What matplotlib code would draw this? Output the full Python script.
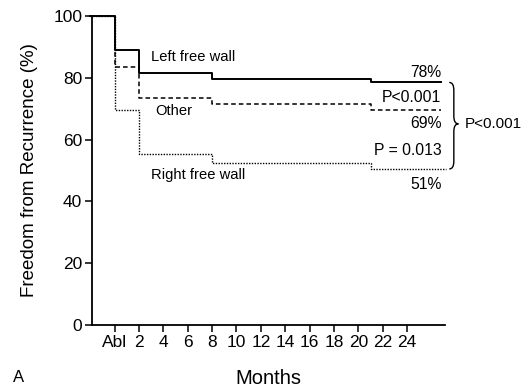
import matplotlib.pyplot as plt
from matplotlib.path import Path
from matplotlib.patches import PathPatch

# step times (months, Abl = 0) and freedom from recurrence (%)
months = [-2, 0, 2, 8, 21, 26.8]
left_wall = [100, 89, 81.5, 79.5, 78.5, 78.5]
other = [100, 83.5, 73.5, 71.5, 69.5, 69.5]
months_right = [-2, 0, 2, 8, 21, 27.2]
right_wall = [100, 69.5, 55.5, 52.5, 50.5, 50.5]

tick_pos = [0, 2, 4, 6, 8, 10, 12, 14, 16, 18, 20, 22, 24]
tick_lab = ['Abl', '2', '4', '6', '8', '10', '12', '14', '16', '18', '20', '22', '24']

plt.rcParams['font.family'] = ['Liberation Sans', 'DejaVu Sans']

fig = plt.figure(figsize=(5.24, 3.88), dpi=100)
ax = fig.add_axes([92 / 524, 63 / 388, 353 / 524, 309 / 388])

ax.step(months, left_wall, where='post', color='black', lw=1.4, ls='-', clip_on=False)
ax.step(months, other, where='post', color='black', lw=1.1, ls=(0, (3, 2)), clip_on=False)
ax.step(months_right, right_wall, where='post', color='black', lw=1.0, ls=(0, (1, 1)), clip_on=False)

ax.set_xlim(-1.85, 27.1)
ax.set_ylim(0, 100)
ax.spines['top'].set_visible(False)
ax.spines['right'].set_visible(False)
ax.spines['left'].set_linewidth(1.3)
ax.spines['bottom'].set_linewidth(1.3)
ax.set_xticks(tick_pos)
ax.set_xticklabels(tick_lab)
ax.set_yticks([0, 20, 40, 60, 80, 100])
ax.tick_params(direction='out', length=5, width=1.1, labelsize=12.5, pad=2)
ax.set_xlabel('Months', fontsize=14.5, labelpad=14)
ax.set_ylabel('Freedom from Recurrence (%)', fontsize=13.5, labelpad=11)

# curve labels
ax.text(3.0, 86.6, 'Left free wall', fontsize=10.6, va='center', ha='left')
ax.text(3.3, 69.4, 'Other', fontsize=10.6, va='center', ha='left')
ax.text(2.95, 48.5, 'Right free wall', fontsize=10.6, va='center', ha='left')

ax.text(26.8, 81.8, '78%', fontsize=11.3, va='center', ha='right')
ax.text(26.8, 73.6, 'P<0.001', fontsize=11.3, va='center', ha='right')
ax.text(26.8, 65.1, '69%', fontsize=11.3, va='center', ha='right')
ax.text(26.8, 56.4, 'P = 0.013', fontsize=11.3, va='center', ha='right')
ax.text(26.8, 45.6, '51%', fontsize=11.3, va='center', ha='right')
ax.text(28.7, 65.1, 'P<0.001', fontsize=11, va='center', ha='left', clip_on=False)

# curly brace joining left and right free wall
x0, w = 27.45, 0.75
ytop, ybot = left_wall[-1], right_wall[-1]
ymid = 65.1
d = 2.5
verts = [(x0, ytop), (x0 + w / 2, ytop), (x0 + w / 2, ytop - d),
         (x0 + w / 2, ymid + d),
         (x0 + w / 2, ymid), (x0 + w, ymid), (x0 + w, ymid),
         (x0 + w / 2, ymid), (x0 + w / 2, ymid - d),
         (x0 + w / 2, ybot + d),
         (x0 + w / 2, ybot), (x0, ybot)]
codes = [Path.MOVETO, Path.CURVE3, Path.CURVE3,
         Path.LINETO,
         Path.CURVE3, Path.CURVE3, Path.MOVETO,
         Path.CURVE3, Path.CURVE3,
         Path.LINETO,
         Path.CURVE3, Path.CURVE3]
ax.add_patch(PathPatch(Path(verts, codes), fill=False, lw=1.0, color='black', clip_on=False))

fig.text(13 / 524, 10 / 388, 'A', fontsize=12, va='center', ha='left')

fig.savefig('out.png', dpi=100)
